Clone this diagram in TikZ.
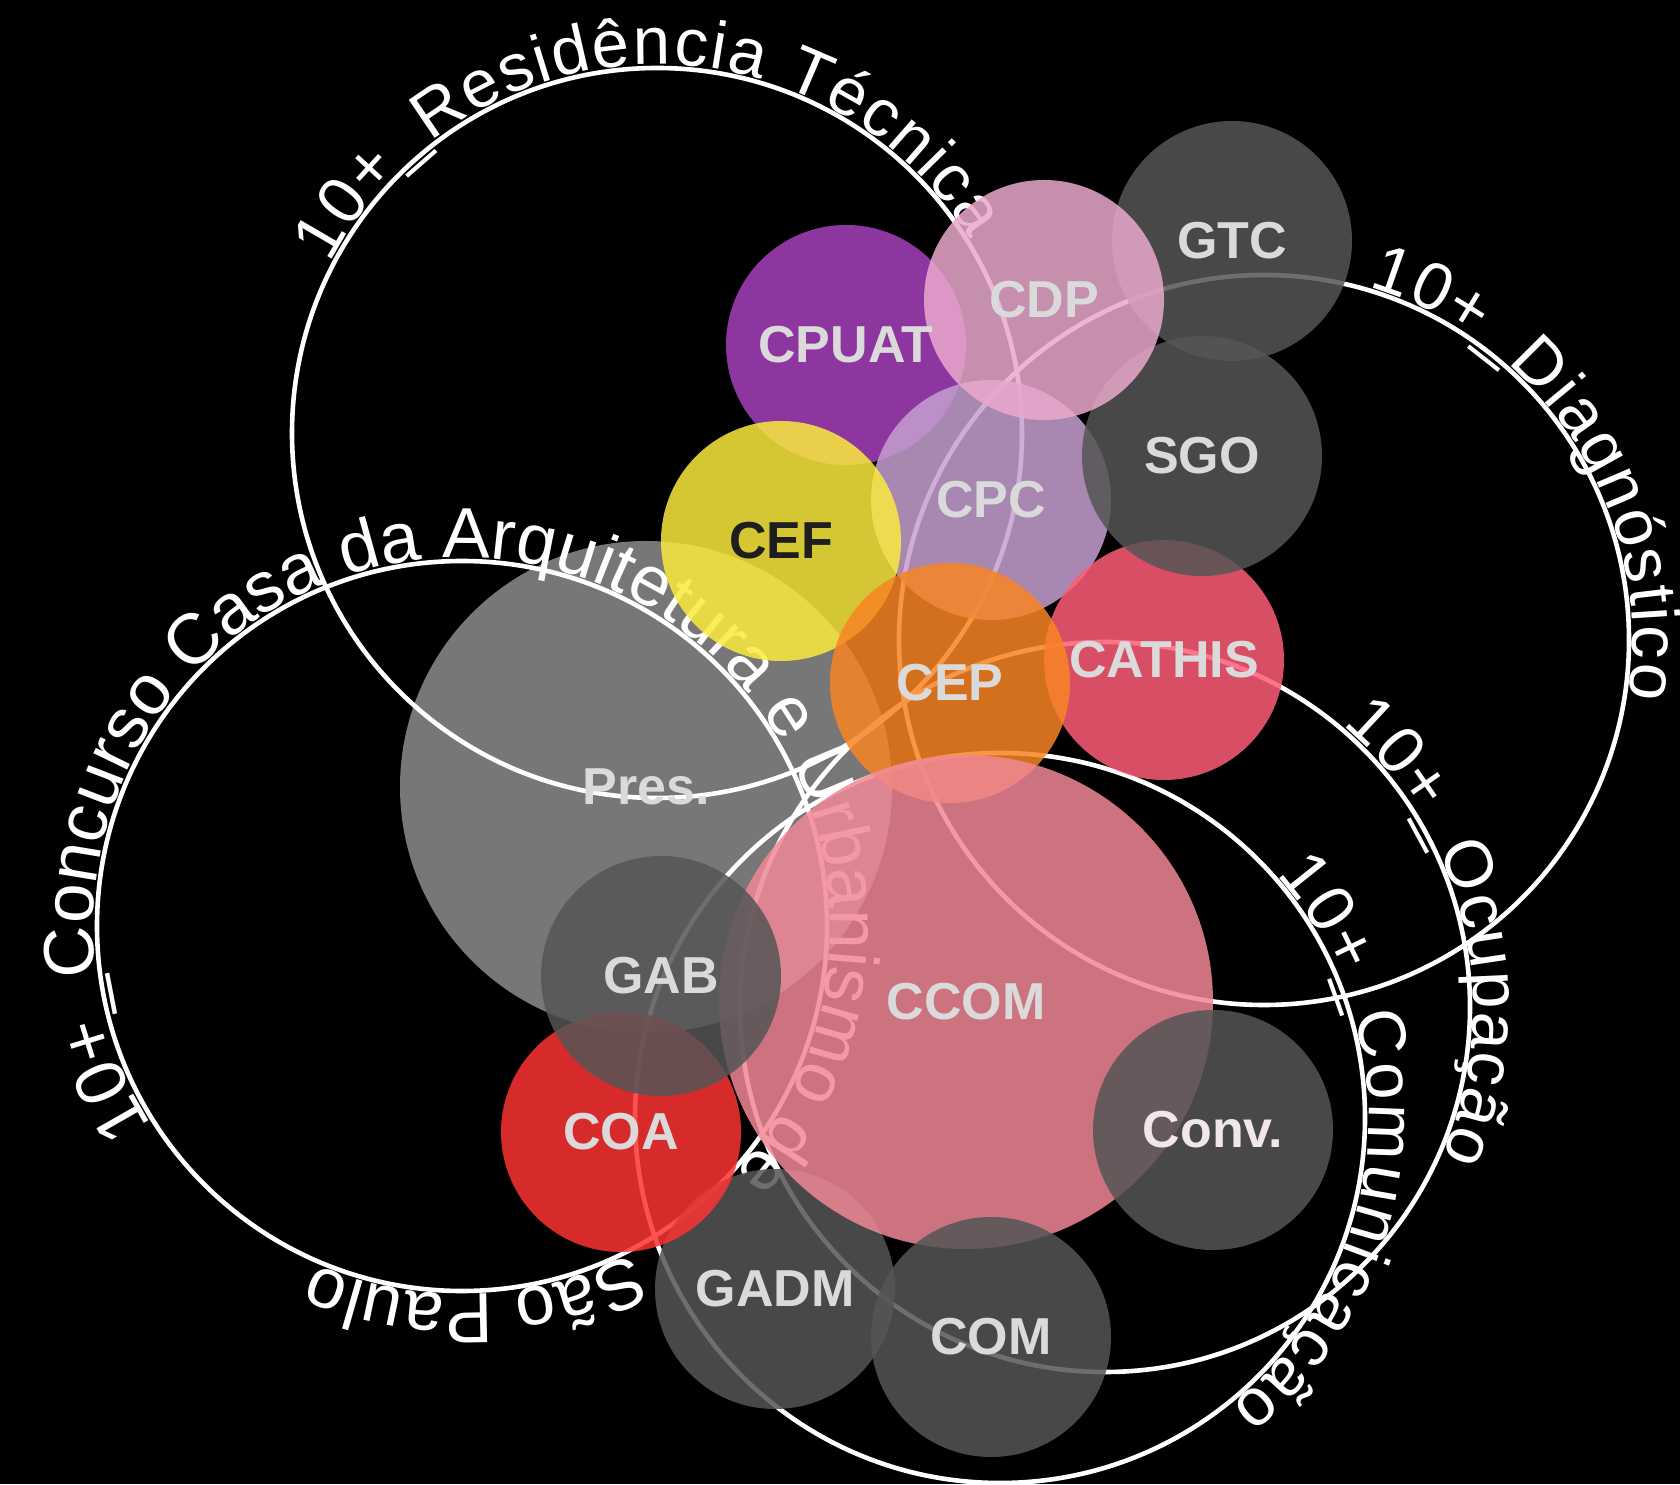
\documentclass[tikz,border=0pt]{standalone}
\usepackage{fontspec}
\setmainfont{Liberation Sans}
\usetikzlibrary{decorations.text}
\definecolor{cPres}{HTML}{777777}
\definecolor{cGray}{HTML}{555555}
\definecolor{cCPUAT}{HTML}{A740BC}
\definecolor{cCDP}{HTML}{EBA9CD}
\definecolor{cCPC}{HTML}{C69FD1}
\definecolor{cCEF}{HTML}{FBEA3E}
\definecolor{cCEP}{HTML}{F98424}
\definecolor{cCATHIS}{HTML}{FE5E77}
\definecolor{cCCOM}{HTML}{F18897}
\definecolor{cCOA}{HTML}{FD3333}
\definecolor{labgray}{HTML}{DADADA}
\definecolor{labwhite}{HTML}{F1E7E9}
\definecolor{labdark}{HTML}{1E1E1E}
\newcommand\crvA{\fontsize{33.5}{40}\selectfont}
\newcommand\crvK{\fontsize{35.6}{42}\selectfont}
\begin{document}
\begin{tikzpicture}[x=0.5pt,y=0.5pt,
  ring/.style={draw=white, line width=2.3pt},
  bubble/.style={fill opacity=0.85},
  lab/.style={font=\fontsize{26}{31}\selectfont\bfseries, text=labgray, inner sep=0pt, anchor=center},
  curved/.style={decorate, decoration={text along path, text color=white, text align=fit to path}},
  curvedleft/.style={decorate, decoration={text along path, text color=white, text align=left}},
  curvedright/.style={decorate, decoration={text along path, text color=white, text align=right}}
]
\useasboundingbox (0,0) rectangle (1680,1484);
\fill[black] (0,0) rectangle (1680,1484);

% centres of the outlined circles
\coordinate (R) at (657,1051);
\coordinate (K) at (462,558);
\coordinate (D) at (1264,844);
\coordinate (O) at (1105,477);
\coordinate (M) at (1000,366);

% centres of the bubbles
\coordinate (pGTC) at (1232,1243);
\coordinate (pCDP) at (1044,1184);
\coordinate (pCPUAT) at (846,1139);
\coordinate (pSGO) at (1202,1028);
\coordinate (pCPC) at (991,984);
\coordinate (pCEF) at (781,943);
\coordinate (pCATHIS) at (1164,824);
\coordinate (pCEP) at (950,801);
\coordinate (pPres) at (646,697);
\coordinate (pGAB) at (661,508);
\coordinate (pCCOM) at (966,482);
\coordinate (pCOA) at (621,352);
\coordinate (pConv) at (1213,354);
\coordinate (pGADM) at (775,195);
\coordinate (pCOM) at (991,147);

% Pres. below the rings
\fill[cPres] (pPres) circle[radius=246];

% rings
\foreach \c in {R,K,D,O,M} \draw[ring] (\c) circle[radius=365];

% curved texts
\path[curved, decoration={text={|\crvA|10+{\_}Residência Técnica}}]
  (R) ++(152.6:368.5) arc[start angle=152.6, end angle=31.7, radius=368.5];
\path[curved, decoration={text={|\crvA|10+{\_}Diagnóstico}}]
  (D) ++(73.5:368.5) arc[start angle=73.5, end angle=-9.1, radius=368.5];
\path[curvedleft, decoration={text={|\crvK|10+{\_}Concurso Casa da Arquitetura e Urbanismo de}}]
  (K) ++(212.75:368.5) arc[start angle=212.75, end angle=-52, radius=368.5];
\path[curvedright, decoration={text={|\crvK|São Paulo}}]
  (K) ++(-54:368.5) arc[start angle=-54, end angle=-113.5, radius=368.5];
\path[curved, decoration={text={|\crvA|10+{\_}Ocupação}}]
  (O) ++(49.9:368.5) arc[start angle=49.9, end angle=-24, radius=368.5];
\path[curved, decoration={text={|\crvA|10+{\_}Comunicação}}]
  (M) ++(41.4:368.5) arc[start angle=41.4, end angle=-51.4, radius=368.5];

% bubbles, back to front
\fill[bubble, cGray] (pGTC) circle[radius=120];
\fill[bubble, cCPUAT] (pCPUAT) circle[radius=120];
\fill[bubble, cCPC] (pCPC) circle[radius=120];
\fill[bubble, cCEF] (pCEF) circle[radius=120];
\fill[bubble, cCATHIS] (pCATHIS) circle[radius=120];
\fill[bubble, cGray] (pSGO) circle[radius=120];
\fill[bubble, cCDP] (pCDP) circle[radius=120];
\fill[bubble, cCEP] (pCEP) circle[radius=120];
\fill[bubble, cGray] (pGADM) circle[radius=120];
\fill[bubble, cCCOM] (pCCOM) circle[radius=247];
\fill[bubble, cCOA] (pCOA) circle[radius=120];
\fill[bubble, cGray] (pGAB) circle[radius=120];
\fill[bubble, cGray] (pCOM) circle[radius=120];
\fill[bubble, cGray] (pConv) circle[radius=120];

% labels
\node[lab] (tGTC) at (pGTC) {GTC};
\node[lab] (tCDP) at (pCDP) {CDP};
\node[lab] (tCPUAT) at (pCPUAT) {CPUAT};
\node[lab] (tSGO) at (pSGO) {SGO};
\node[lab] (tCPC) at (pCPC) {CPC};
\node[lab, text=labdark] (tCEF) at (pCEF) {CEF};
\node[lab] (tCATHIS) at (pCATHIS) {CATHIS};
\node[lab] (tCEP) at (pCEP) {CEP};
\node[lab] (tPres) at (pPres) {Pres.};
\node[lab] (tGAB) at (pGAB) {GAB};
\node[lab] (tCCOM) at (pCCOM) {CCOM};
\node[lab] (tCOA) at (pCOA) {COA};
\node[lab, text=labwhite] (tConv) at (pConv) {Conv.};
\node[lab] (tGADM) at (pGADM) {GADM};
\node[lab] (tCOM) at (pCOM) {COM};
\end{tikzpicture}
\end{document}
